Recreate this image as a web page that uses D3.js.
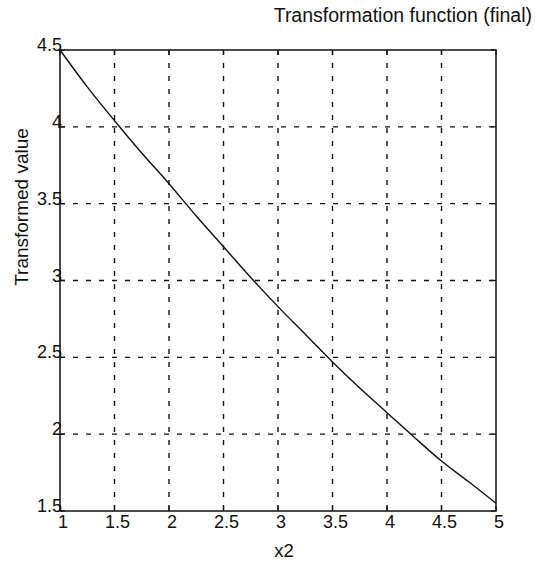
<!DOCTYPE html>
<html>
<head>
<meta charset="utf-8">
<script src="https://cdn.jsdelivr.net/npm/d3@7"></script>
<style>
  html, body { margin: 0; padding: 0; background: #fff; }
  svg { display: block; }
  text { font-family: "Liberation Sans", Arial, Helvetica, sans-serif; fill: #111; }
</style>
</head>
<body>
<svg id="chart" width="535" height="563"></svg>
<script>
// Sampled transformation curve
const xValues = [1.0, 1.25, 1.5, 1.75, 2.0, 2.25, 2.5, 2.75, 3.0, 3.25, 3.5, 3.75, 4.0, 4.25, 4.5, 4.75, 5.0];
const yValues = [4.50, 4.26, 4.04, 3.83, 3.63, 3.42, 3.22, 3.02, 2.83, 2.65, 2.47, 2.30, 2.14, 1.98, 1.825, 1.69, 1.55];

const xTicks = [1, 1.5, 2, 2.5, 3, 3.5, 4, 4.5, 5];
const xTickLabels = ["1", "1.5", "2", "2.5", "3", "3.5", "4", "4.5", "5"];
const yTicks = [1.5, 2, 2.5, 3, 3.5, 4, 4.5];
const yTickLabels = ["1.5", "2", "2.5", "3", "3.5", "4", "4.5"];

const titleText = "Transformation function (final)";
const xLabelText = "x2";
const yLabelText = "Transformed value";

const svg = d3.select("#chart");
const plot = { left: 60, right: 496, top: 50, bottom: 511 };

const x = d3.scaleLinear().domain([1, 5]).range([plot.left, plot.right]);
const y = d3.scaleLinear().domain([1.5, 4.5]).range([plot.bottom, plot.top]);

const ink = "#111";

// Dashed grid
const grid = svg.append("g");
grid.selectAll("line.vx").data(xTicks.slice(1, -1)).join("line")
  .attr("x1", d => x(d)).attr("x2", d => x(d))
  .attr("y1", plot.top).attr("y2", plot.bottom)
  .attr("stroke", ink).attr("stroke-width", 1.4)
  .attr("stroke-dasharray", "5,8");
grid.selectAll("line.hy").data(yTicks.slice(1, -1)).join("line")
  .attr("y1", d => y(d)).attr("y2", d => y(d))
  .attr("x1", plot.left).attr("x2", plot.right)
  .attr("stroke", ink).attr("stroke-width", 1.4)
  .attr("stroke-dasharray", "5,8");

// Inward tick marks on all four sides
const tickLen = 5;
const ticks = svg.append("g").attr("stroke", ink).attr("stroke-width", 1.2);
xTicks.forEach(t => {
  ticks.append("line").attr("x1", x(t)).attr("x2", x(t)).attr("y1", plot.bottom).attr("y2", plot.bottom - tickLen);
  ticks.append("line").attr("x1", x(t)).attr("x2", x(t)).attr("y1", plot.top).attr("y2", plot.top + tickLen);
});
yTicks.forEach(t => {
  ticks.append("line").attr("y1", y(t)).attr("y2", y(t)).attr("x1", plot.left).attr("x2", plot.left + tickLen);
  ticks.append("line").attr("y1", y(t)).attr("y2", y(t)).attr("x1", plot.right).attr("x2", plot.right - tickLen);
});

// Frame
svg.append("rect")
  .attr("x", plot.left).attr("y", plot.top)
  .attr("width", plot.right - plot.left).attr("height", plot.bottom - plot.top)
  .attr("fill", "none").attr("stroke", ink).attr("stroke-width", 1.5);

// Curve
const line = d3.line().x((d, i) => x(xValues[i])).y(d => y(d)).curve(d3.curveMonotoneX);
svg.append("path")
  .datum(yValues)
  .attr("d", line)
  .attr("fill", "none").attr("stroke", ink).attr("stroke-width", 1.4);

// Tick labels
const fs = 18;
svg.append("g").selectAll("text").data(xTicks).join("text")
  .attr("x", d => x(d) + 3).attr("y", plot.bottom + 17)
  .attr("text-anchor", "middle").attr("font-size", fs)
  .text((d, i) => xTickLabels[i]);
svg.append("g").selectAll("text").data(yTicks).join("text")
  .attr("x", plot.left + 2).attr("y", d => y(d) + 1)
  .attr("text-anchor", "end").attr("font-size", fs)
  .text((d, i) => yTickLabels[i]);

// Titles
svg.append("text").attr("x", 532).attr("y", 22)
  .attr("text-anchor", "end").attr("font-size", 19.5).text(titleText);
svg.append("text").attr("x", 284).attr("y", 557)
  .attr("text-anchor", "middle").attr("font-size", 18.5).text(xLabelText);
svg.append("text")
  .attr("transform", "translate(28,207) rotate(-90)")
  .attr("text-anchor", "middle").attr("font-size", 19).text(yLabelText);
</script>
</body>
</html>
